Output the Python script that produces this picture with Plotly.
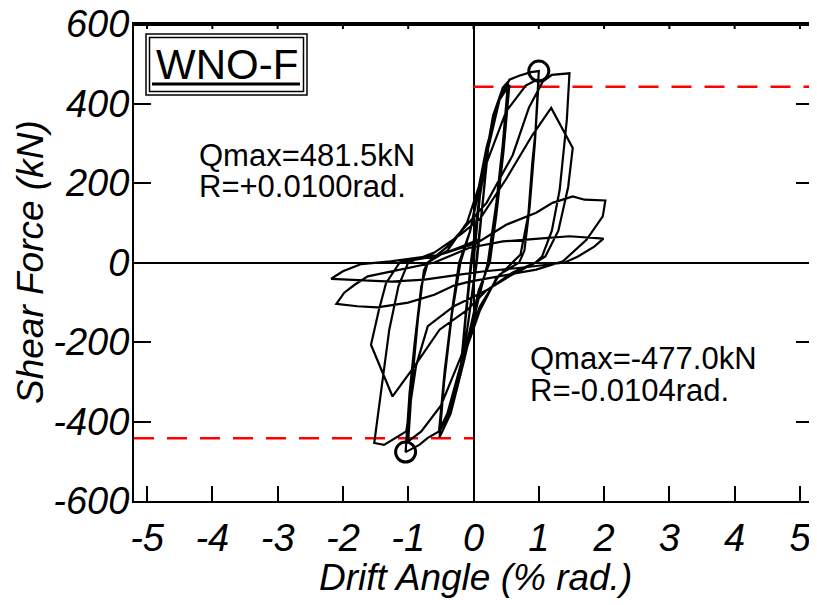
import plotly.graph_objects as go

# ---------------- data ----------------
drift = [
    0.0,
    0.10, 0.22, 0.14, 0.04,
    -0.08, -0.20, -0.12, -0.03,
    0.09, 0.23, 0.13, 0.05,
    -0.09, -0.21, -0.12, -0.04,
    0.12, 0.30, 0.45, 0.53, 0.45, 0.35, 0.22,
    0.08, -0.15, -0.35, -0.52, -0.45, -0.33, -0.20,
    -0.05, 0.20, 0.40, 0.55, 0.46, 0.35, 0.25,
    0.08, -0.15, -0.35, -0.53, -0.44, -0.32, -0.22,
    -0.05, 0.20, 0.40, 0.55, 0.70, 0.88, 1.00, 0.95, 0.90, 0.84, 0.72, 0.60,
    0.35, 0.10, -0.20, -0.40, -0.53, -0.70, -0.83, -1.04, -0.98, -0.90, -0.80, -0.70,
    -0.40, -0.10, 0.20, 0.50, 0.80, 1.00, 0.94, 0.86, 0.78, 0.70,
    0.40, 0.10, -0.20, -0.50, -0.80, -1.00, -0.94, -0.85, -0.76, -0.70,
    -0.40, 0.20, 0.60, 0.85, 1.06, 1.20, 1.47, 1.43, 1.32, 1.20, 1.05, 0.95,
    0.60, 0.20, -0.30, -0.70, -0.88, -1.03, -1.37, -1.52, -1.40, -1.29, -1.15, -1.00,
    -0.60, -0.20, 0.10, 0.50, 0.90, 1.19, 1.52, 1.45, 1.30, 1.10, 0.95,
    0.60, 0.20, -0.10, -0.52, -0.90, -1.24, -1.57, -1.45, -1.34, -1.13,
    -0.60, 0.06, 0.50, 0.96, 1.21, 1.52, 1.70, 2.02, 1.98, 1.73, 1.37,
    0.96, 0.45, -0.06, -0.30, -0.60, -1.00, -1.47, -1.78, -2.10,
    -1.98, -1.82, -1.62, -1.20, -0.60, -0.06,
    0.45, 1.00, 1.47, 1.99, 1.85, 1.60, 1.40,
    0.80, 0.17, -0.24, -0.75, -1.26, -1.78, -2.18,
    -2.00, -1.72, -1.27, -0.50, -0.10, 0.10,
]
force = [
    0,
    170, 290, 150, 0,
    -150, -285, -140, 0,
    160, 295, 130, 0,
    -160, -290, -130, 0,
    200, 370, 440, 455, 300, 150, 0,
    -90, -250, -380, -440, -300, -130, 0,
    80, 290, 410, 447, 280, 120, 0,
    -70, -240, -370, -428, -270, -110, 0,
    80, 270, 410, 460, 470, 479, 481.5, 330, 250, 120, 20, 0,
    -40, -120, -260, -380, -425, -441, -459, -477.0, -330, -200, -60, 0,
    30, 100, 250, 380, 445, 462, 300, 140, 30, 0,
    -30, -110, -240, -360, -425, -450, -300, -140, -20, 0,
    40, 150, 270, 390, 455, 472, 476, 360, 183, 80, 15, 0,
    -30, -70, -110, -160, -260, -425, -459, -454, -312, -169, -60, 0,
    25, 70, 110, 210, 320, 389, 288, 190, 80, 15, 0,
    -25, -70, -120, -169, -260, -337, -207, -120, -52, 0,
    15, 50, 95, 125, 150, 166, 158, 156, 116, 57, 3,
    -18, -33, -48, -58, -81, -101, -113, -110, -104,
    -76, -56, -35, -20, 0, 37,
    53, 60, 66, 60, 40, 15, 0,
    -12, -22, -31, -43, -48, -43, -41,
    -22, -4, 3, 20, 45, 60,
]

peak_drift = [1.00, -1.04]
peak_force = [481.5, -477.0]
limit_force = 442

x_ticks = [-5, -4, -3, -2, -1, 0, 1, 2, 3, 4, 5]
x_ticktext = ["-5", "-4", "-3", "-2", "-1", "0", "1", "2", "3", "4", "5"]
y_ticks = [-600, -400, -200, 0, 200, 400, 600]
y_ticktext = ["-600", "-400", "-200", "0", "200", "400", "600"]

x_range = [-5.2, 5.2]
y_range = [-600, 600]

# ---------------- layout helpers ----------------
# the page body has an 8px margin; positions below are in page pixels
OFF = 8
W, H = 809, 597
ML, MR, MT, MB = 126, 4, 16, 104
PW, PH = W - ML - MR, H - MT - MB


def px(xp):
    return (xp - OFF - ML) / PW


def py(yp):
    return (OFF + H - MB - yp) / PH


FONT = "Liberation Sans, Arial, sans-serif"

fig = go.Figure()

# limit lines
fig.add_trace(go.Scatter(x=[0, x_range[1]], y=[limit_force, limit_force], mode="lines",
                         line=dict(color="#ff0000", width=2.5, dash="20px,13px"),
                         hoverinfo="skip", showlegend=False))
fig.add_trace(go.Scatter(x=[x_range[0], 0], y=[-limit_force, -limit_force], mode="lines",
                         line=dict(color="#ff0000", width=2.5, dash="20px,13px"),
                         hoverinfo="skip", showlegend=False))

# hysteresis
fig.add_trace(go.Scatter(x=drift, y=force, mode="lines",
                         line=dict(color="black", width=2.2),
                         showlegend=False))

# peak markers
fig.add_trace(go.Scatter(x=peak_drift, y=peak_force, mode="markers",
                         marker=dict(symbol="circle-open", size=20, color="black",
                                     line=dict(width=3, color="black")),
                         showlegend=False))

fig.update_layout(
    width=W, height=H,
    margin=dict(l=ML, r=MR, t=MT, b=MB, pad=0, autoexpand=False),
    paper_bgcolor="white", plot_bgcolor="white",
    font=dict(family=FONT, color="black"),
    xaxis=dict(range=x_range, tickvals=x_ticks, ticktext=x_ticktext,
               ticks="inside", ticklen=15, tickwidth=2, tickcolor="black",
               showline=True, linecolor="black", linewidth=2, mirror=True,
               showgrid=False, zeroline=True, zerolinecolor="black", zerolinewidth=2,
               tickfont=dict(family=FONT, size=38, style="italic"),
               ticklabelstandoff=2, ticklabeloverflow="allow", automargin=False),
    yaxis=dict(range=y_range, tickvals=y_ticks, ticktext=y_ticktext,
               ticks="inside", ticklen=17, tickwidth=2, tickcolor="black",
               showline=True, linecolor="black", linewidth=2, mirror="ticks",
               showgrid=False, zeroline=True, zerolinecolor="black", zerolinewidth=2,
               tickfont=dict(family=FONT, size=38, style="italic"),
               ticklabelstandoff=-5, ticklabeloverflow="allow", automargin=False),
)

# short tick marks along the top edge of the frame (drawn in axis coordinates)
for xv in x_ticks:
    fig.add_shape(type="line", xref="x", yref="paper", x0=xv, x1=xv,
                  y0=1, y1=1 - 5 / PH, line=dict(color="black", width=2))
# top border of the frame
fig.add_shape(type="line", xref="paper", yref="paper", x0=0, x1=1,
              y0=1 - 1 / PH, y1=1 - 1 / PH, line=dict(color="black", width=2))

# axis titles
fig.add_annotation(x=px(475), y=py(577), xref="paper", yref="paper",
                   text="Drift Angle (% rad.)", showarrow=False,
                   font=dict(family=FONT, size=37, style="italic"),
                   xanchor="center", yanchor="middle")
fig.add_annotation(x=px(30), y=py(262), xref="paper", yref="paper",
                   text="Shear Force (kN)", showarrow=False, textangle=-90,
                   font=dict(family=FONT, size=37, style="italic"),
                   xanchor="center", yanchor="middle")

# specimen label
fig.add_annotation(x=px(226.5), y=py(64), xref="paper", yref="paper",
                   text="WNO-F", showarrow=False,
                   font=dict(family=FONT, size=42),
                   xanchor="center", yanchor="middle")
fig.add_shape(type="rect", xref="paper", yref="paper",
              x0=px(146), x1=px(307), y0=py(95), y1=py(34),
              line=dict(color="black", width=1.5))
fig.add_shape(type="rect", xref="paper", yref="paper",
              x0=px(149.5), x1=px(303.5), y0=py(91.5), y1=py(37.5),
              line=dict(color="black", width=1.5))
fig.add_shape(type="line", xref="paper", yref="paper",
              x0=px(152), x1=px(300), y0=py(84), y1=py(84),
              line=dict(color="black", width=3))

# Qmax texts
texts = [
    ("Qmax=481.5kN", 197, 155),
    ("R=+0.0100rad.", 197, 186),
    ("Qmax=-477.0kN", 528, 358),
    ("R=-0.0104rad.", 528, 390),
]
for t, xp_, yp_ in texts:
    fig.add_annotation(x=px(xp_), y=py(yp_), xref="paper", yref="paper",
                       text=t, showarrow=False, font=dict(family=FONT, size=31),
                       xanchor="left", yanchor="middle")

fig.write_html("out.html")
